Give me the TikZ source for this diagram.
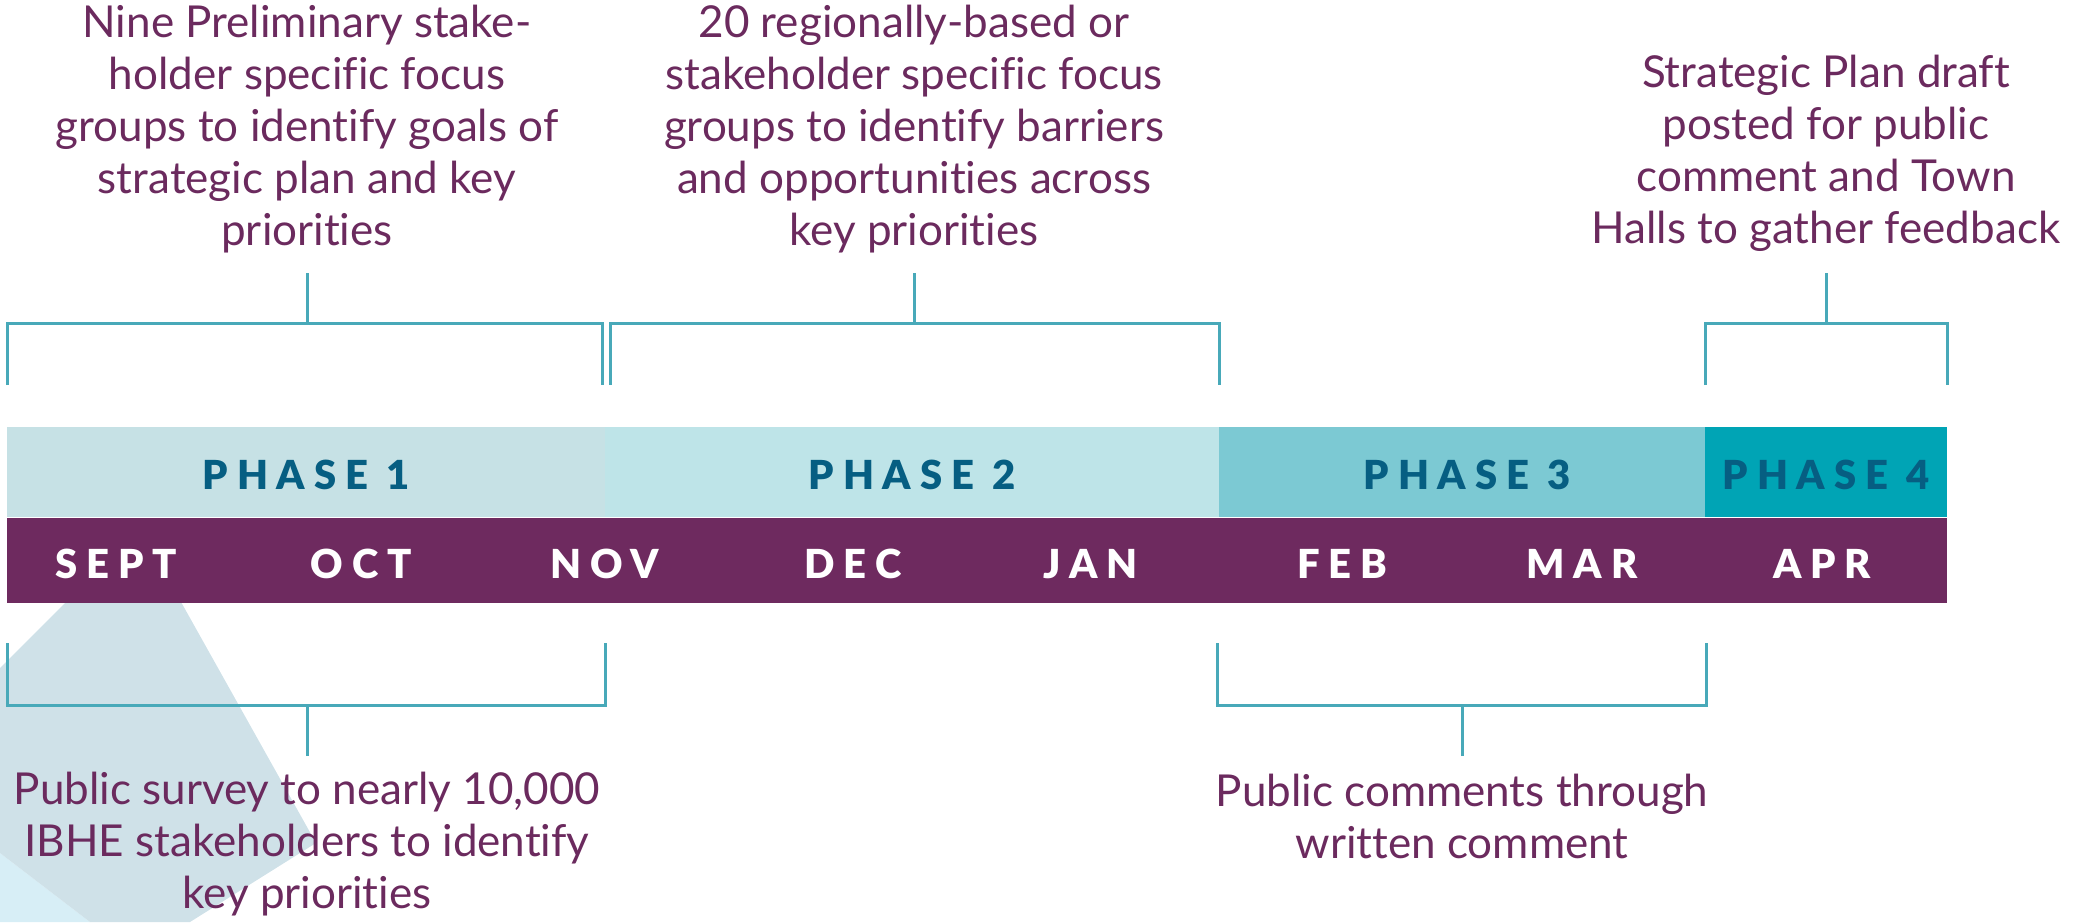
\documentclass[tikz,border=0pt]{standalone}
\usepackage{fontspec}
\setmainfont{Lato}[Ligatures=NoCommon]
\newfontfamily\headfont{Lato Black}[LetterSpace=22]
\definecolor{tpurple}{HTML}{6B2A5E}
\definecolor{mbar}{HTML}{6E2A5F}
\definecolor{phtext}{HTML}{065E82}
\definecolor{pa}{HTML}{C6E1E5}
\definecolor{pb}{HTML}{BEE4E8}
\definecolor{pc}{HTML}{7CC9D3}
\definecolor{pd}{HTML}{00A4B5}
\definecolor{brk}{HTML}{48A9B9}
\definecolor{greyblue}{HTML}{CFE1E8}
\definecolor{lightcyan}{HTML}{D7EEF6}
\tikzset{
  brk/.style={draw=brk, line width=1.5pt},
  body/.style={font=\fontsize{22}{26}\selectfont, text=tpurple, align=center, inner sep=0pt, anchor=base},
  head/.style={font=\headfont\fontsize{20}{24}\selectfont, text=phtext, inner sep=0pt, anchor=base},
  month/.style={font=\headfont\fontsize{20}{24}\selectfont, text=white, inner sep=0pt, anchor=base},
}
\begin{document}
\begin{tikzpicture}[x=0.5pt,y=-0.5pt]
\useasboundingbox (0,0) rectangle (2073,922);
% background shapes
\fill[lightcyan] (0,853) -- (90,922) -- (0,922) -- cycle;
\fill[greyblue] (0,668) -- (100,568) -- (162,568) -- (316,843) -- (190,922) -- (90,922) -- (0,853) -- cycle;
% phase bar
\fill[pa] (7,427) rectangle (605,517);
\fill[pb] (605,427) rectangle (1219,517);
\fill[pc] (1219,427) rectangle (1705,517);
\fill[pd] (1705,427) rectangle (1947,517);
% month bar
\fill[mbar] (7,518) rectangle (1947,603);
% phase labels
\node[head] (ph1) at (306,489) {PHASE 1};
\node[head] (ph2) at (912,489) {PHASE 2};
\node[head] (ph3) at (1467,489) {PHASE 3};
\node[head] (ph4) at (1826,489) {PHASE 4};
% months
\node[month] (m1) at (116,578) {SEPT};
\node[month] (m2) at (361,578) {OCT};
\node[month] (m3) at (605,578) {NOV};
\node[month] (m4) at (853,578) {DEC};
\node[month] (m5) at (1091,578) {JAN};
\node[month] (m6) at (1342,578) {FEB};
\node[month] (m7) at (1582,578) {MAR};
\node[month] (m8) at (1822,578) {APR};
% top texts (anchored at last line baseline)
\node[body] (t1) at (307,245) {Nine Preliminary stake-\\holder specific focus\\groups to identify goals of\\strategic plan and key\\priorities};
\node[body] (t2) at (914,245) {20 regionally-based or\\stakeholder specific focus\\groups to identify barriers\\and opportunities across\\key priorities};
\node[body] (t3) at (1826,243) {Strategic Plan draft\\posted for public\\comment and Town\\Halls to gather feedback};
% bottom texts
\node[body] (b1) at (307,908) {Public survey to nearly 10,000\\IBHE stakeholders to identify\\key priorities};
\node[body] (b2) at (1462,858) {Public comments through\\written comment};
% top brackets
\coordinate (s1) at (307,273);
\coordinate (s2) at (914,273);
\coordinate (s3) at (1826,273);
\draw[brk] (7,385) -- (7,323) -- (602,323) -- (602,385);
\draw[brk] (s1) -- (307,323);
\draw[brk] (610,385) -- (610,323) -- (1219,323) -- (1219,385);
\draw[brk] (s2) -- (914,323);
\draw[brk] (1705,385) -- (1705,323) -- (1947,323) -- (1947,385);
\draw[brk] (s3) -- (1826,323);
% bottom brackets
\coordinate (u1) at (307,756);
\coordinate (u2) at (1462,756);
\draw[brk] (7,643) -- (7,705) -- (605,705) -- (605,643);
\draw[brk] (u1) -- (307,705);
\draw[brk] (1217,643) -- (1217,705) -- (1706,705) -- (1706,643);
\draw[brk] (u2) -- (1462,705);
\end{tikzpicture}
\end{document}
